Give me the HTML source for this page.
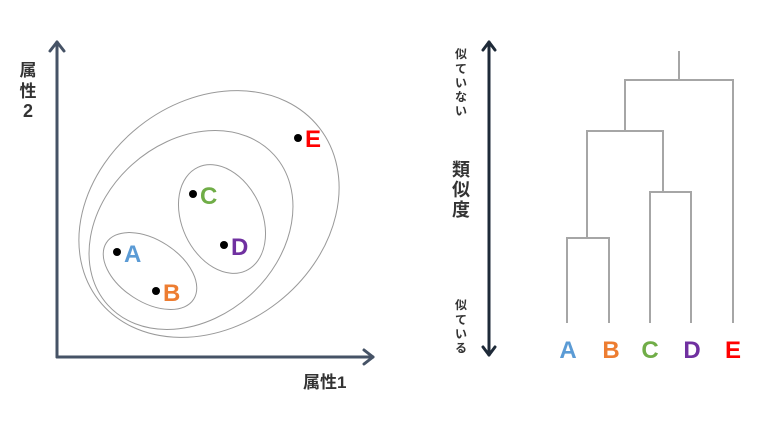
<!DOCTYPE html>
<html><head><meta charset="utf-8"><style>
body{margin:0;background:#fff;width:769px;height:422px;overflow:hidden}
svg{display:block}
text{font-family:"Liberation Sans","Noto Sans CJK JP",sans-serif;font-weight:bold}
</style></head><body>
<svg width="769" height="422" viewBox="0 0 769 422">
<g stroke="#465366" stroke-width="3" fill="none" stroke-linecap="round" stroke-linejoin="round">
<path d="M57 357 V42"/><path d="M50 51 L57 42 L64 51"/>
<path d="M57 357 H373"/><path d="M364 350 L373 357 L364 364"/>
</g>
<text x="28" y="76" font-size="17" fill="#333" text-anchor="middle">属</text>
<text x="28" y="97" font-size="17" fill="#333" text-anchor="middle">性</text>
<text x="28" y="117" font-size="18" fill="#333" text-anchor="middle">2</text>
<text x="303" y="388" font-size="17" fill="#333">属性1</text>
<g fill="none" stroke="#999" stroke-width="1">
<ellipse cx="209" cy="214" rx="140" ry="112" transform="rotate(-38 209 214)"/>
<ellipse cx="191" cy="230" rx="112" ry="88" transform="rotate(-42 191 230)"/>
<ellipse cx="222" cy="219" rx="40" ry="57" transform="rotate(-25 222 219)"/>
<ellipse cx="150" cy="271" rx="52" ry="31" transform="rotate(33 150 271)"/>
</g>
<g fill="#000">
<circle cx="117" cy="252" r="4"/><circle cx="156" cy="291" r="4"/>
<circle cx="193" cy="194" r="4"/><circle cx="224" cy="245" r="4"/>
<circle cx="298" cy="138" r="4"/>
</g>
<g font-size="24">
<text x="124" y="262" fill="#5b9bd5">A</text>
<text x="163" y="301" fill="#ed7d31">B</text>
<text x="200" y="204" fill="#70ad47">C</text>
<text x="231" y="255" fill="#7030a0">D</text>
<text x="305" y="147" fill="#ff0000">E</text>
</g>
<g stroke="#1e2a38" stroke-width="3" fill="none" stroke-linecap="round" stroke-linejoin="round">
<path d="M489 42 V355"/><path d="M483 50 L489 42 L495 50"/><path d="M483 347 L489 355 L495 347"/>
</g>
<g font-size="12" fill="#333" text-anchor="middle">
<text x="461" y="58">似</text><text x="461" y="73">て</text><text x="461" y="87">い</text><text x="461" y="101">な</text><text x="461" y="115">い</text>
<text x="461" y="309">似</text><text x="461" y="324">て</text><text x="461" y="338">い</text><text x="461" y="352">る</text>
</g>
<g font-size="18" fill="#333" text-anchor="middle">
<text x="461" y="176">類</text><text x="461" y="196">似</text><text x="461" y="216">度</text>
</g>
<g stroke="#a6a6a6" stroke-width="2" fill="none">
<path d="M567 323 V238 H609 V323"/>
<path d="M650 323 V192 H691 V323"/>
<path d="M587 238 V131 H663 V192"/>
<path d="M625 131 V80 H733 V323"/>
<path d="M679 80 V51"/>
</g>
<g font-size="24" text-anchor="middle">
<text x="568" y="358" fill="#5b9bd5">A</text>
<text x="611" y="358" fill="#ed7d31">B</text>
<text x="650" y="358" fill="#70ad47">C</text>
<text x="692" y="358" fill="#7030a0">D</text>
<text x="733" y="358" fill="#ff0000">E</text>
</g>
</svg>
</body></html>
